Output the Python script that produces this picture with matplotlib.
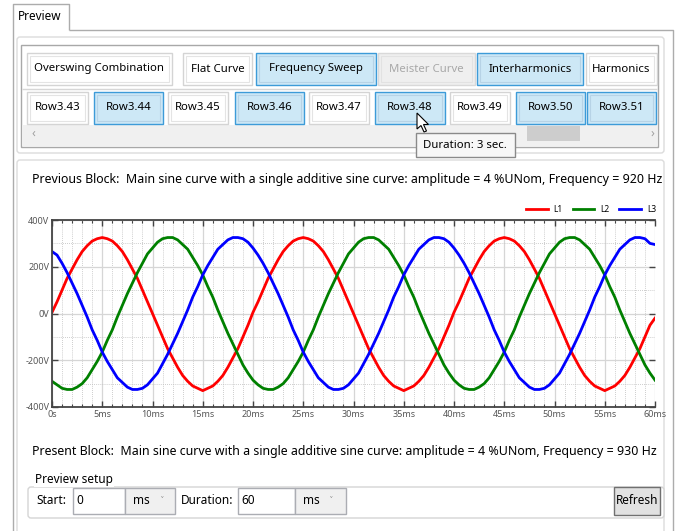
import numpy as np
import matplotlib
matplotlib.use("Agg")
import matplotlib.pyplot as plt
from matplotlib.patches import Rectangle, FancyBboxPatch, Polygon
from matplotlib.ticker import MultipleLocator

plt.rcParams['font.family'] = ['Noto Sans', 'DejaVu Sans']

t_ms = np.arange(121) * 0.5
l1 = [5, 50, 100, 150, 190, 230, 265, 290, 310, 320, 325, 320, 310, 290, 265, 230, 190, 150, 100, 50,
      0, -50, -100, -150, -190, -230, -265, -290, -310, -320, -330, -320, -310, -290, -265, -230, -190, -150, -100, -50,
      5, 50, 100, 150, 190, 230, 265, 290, 310, 320, 325, 320, 310, 290, 265, 230, 190, 150, 100, 50,
      0, -50, -100, -150, -190, -230, -265, -290, -310, -320, -330, -320, -310, -290, -265, -230, -190, -150, -100, -50,
      5, 50, 100, 150, 190, 230, 265, 290, 310, 320, 325, 320, 310, 290, 265, 230, 190, 150, 100, 50,
      0, -50, -100, -150, -190, -230, -265, -290, -310, -320, -330, -320, -310, -290, -265, -230, -190, -150, -100, -50,
      -20]
l2 = [-290, -305, -320, -325, -325, -315, -300, -275, -240, -205, -165, -115, -70, -15, 35, 85, 130, 175, 215, 255,
      280, 305, 320, 325, 325, 315, 295, 275, 240, 205, 165, 115, 70, 15, -35, -85, -130, -175, -220, -255,
      -285, -305, -320, -325, -325, -315, -300, -275, -240, -205, -165, -115, -70, -15, 35, 85, 130, 175, 215, 255,
      280, 305, 320, 325, 325, 315, 295, 275, 240, 205, 165, 115, 70, 15, -35, -85, -130, -175, -220, -255,
      -285, -305, -320, -325, -325, -315, -300, -275, -240, -205, -165, -115, -70, -15, 35, 85, 130, 175, 215, 255,
      280, 305, 320, 325, 325, 315, 295, 275, 240, 205, 165, 115, 70, 15, -35, -85, -130, -175, -220, -255,
      -285]
l3 = [265, 250, 215, 175, 130, 85, 35, -15, -70, -115, -165, -205, -240, -275, -295, -315, -325, -325, -320, -305,
      -280, -255, -215, -175, -130, -85, -35, 15, 70, 115, 165, 205, 240, 275, 295, 315, 325, 325, 320, 305,
      280, 250, 215, 175, 130, 85, 35, -15, -70, -115, -165, -205, -240, -275, -295, -315, -325, -325, -320, -305,
      -280, -255, -215, -175, -130, -85, -35, 15, 70, 115, 165, 205, 240, 275, 295, 315, 325, 325, 320, 305,
      280, 250, 215, 175, 130, 85, 35, -15, -70, -115, -165, -205, -240, -275, -295, -315, -325, -325, -320, -305,
      -280, -255, -215, -175, -130, -85, -35, 15, 70, 115, 165, 205, 240, 275, 295, 315, 325, 325, 320, 300,
      295]
phase_names = ["L1", "L2", "L3"]
phase_colors = ["#ff0000", "#008000", "#0000ff"]

x_ticks = [0, 5, 10, 15, 20, 25, 30, 35, 40, 45, 50, 55, 60]
x_labels = ["0s", "5ms", "10ms", "15ms", "20ms", "25ms", "30ms", "35ms", "40ms", "45ms", "50ms", "55ms", "60ms"]
y_ticks = [-400, -200, 0, 200, 400]
y_labels = ["-400V", "-200V", "0V", "200V", "400V"]

row1_names = ["Overswing Combination", "Flat Curve", "Frequency Sweep", "Meister Curve", "Interharmonics", "Harmonics"]
row2_names = ["Row3.43", "Row3.44", "Row3.45", "Row3.46", "Row3.47", "Row3.48", "Row3.49", "Row3.50", "Row3.51"]

prev_text = "Previous Block:  Main sine curve with a single additive sine curve: amplitude = 4 %UNom, Frequency = 920 Hz"
pres_text = "Present Block:  Main sine curve with a single additive sine curve: amplitude = 4 %UNom, Frequency = 930 Hz"

# Layout (Pixel)
W, H = 681, 531
row1_x = [(27, 172), (183, 252), (256, 376), (378, 475), (477, 583), (586, 657)]
row1_style = ["white", "white", "blue", "off", "blue", "white"]
row2_x = [(27, 88), (94, 163), (168, 228), (235, 304), (309, 369), (375, 445), (450, 510), (516, 585), (587, 656)]
row2_style = ["white", "blue", "white", "blue", "white", "blue", "white", "blue", "blue"]

fig = plt.figure(figsize=(W / 100, H / 100), dpi=100)
ui = fig.add_axes([0, 0, 1, 1])
ui.set_xlim(0, W)
ui.set_ylim(H, 0)
ui.axis("off")


def rect(x0, y0, x1, y1, fc="white", ec="#adadad", lw=1.0, r=0, z=1):
    if r:
        p = FancyBboxPatch((x0, y0), x1 - x0, y1 - y0, boxstyle="round,pad=0,rounding_size=%d" % r,
                           fc=fc, ec=ec, lw=lw, zorder=z)
    else:
        p = Rectangle((x0, y0), x1 - x0, y1 - y0, fc=fc, ec=ec, lw=lw, zorder=z)
    ui.add_patch(p)


def line(xs, ys, c="#acacac", lw=1.0, z=2):
    ui.plot(xs, ys, color=c, lw=lw, zorder=z, solid_capstyle="butt")


def text(x, y, s, size=8.5, color="#000000", ha="left", z=5):
    return ui.text(x, y, s, fontsize=size, color=color, ha=ha, va="center", zorder=z)


def button(x0, x1, y0, y1, s, style):
    if style == "blue":
        rect(x0, y0, x1, y1, fc="#cde8f6", ec="#3d9bd8", z=3)
        rect(x0 + 3, y0 + 3, x1 - 3, y1 - 3, fc="none", ec="#b7d3e6", lw=0.8, z=3)
        col = "#000000"
    elif style == "off":
        rect(x0, y0, x1, y1, fc="#efefef", ec="#d9d9d9", z=3)
        rect(x0 + 3, y0 + 3, x1 - 3, y1 - 3, fc="none", ec="#e2e2e2", lw=0.8, z=3)
        col = "#a8a8a8"
    else:
        rect(x0, y0, x1, y1, fc="white", ec="#d4d4d4", z=3)
        rect(x0 + 3, y0 + 3, x1 - 3, y1 - 3, fc="none", ec="#e4e4e4", lw=0.8, z=3)
        col = "#000000"
    text((x0 + x1) / 2, (y0 + y1) / 2, s, size=8.2, color=col, ha="center")


# Registerkarte und Rahmen
line([13, 13, 69, 69], [531, 4, 4, 30])
line([69, 673, 673], [30, 30, 531])
text(18, 17, "Preview", size=8.5)

# Gruppe mit den Schaltflächen
rect(17, 37, 664, 153, fc="white", ec="#dcdcdc", r=3)
rect(21, 45, 658, 147, fc="white", ec="#a8a8a8", z=2)
line([22, 657], [89, 89], c="#d6d6d6")
for (x0, x1), s, st in zip(row1_x, row1_names, row1_style):
    button(x0, x1, 53, 85, s, st)
for (x0, x1), s, st in zip(row2_x, row2_names, row2_style):
    button(x0, x1, 92, 124, s, st)
rect(22, 125, 657, 146, fc="#f0f0f0", ec="none", z=2)
rect(527, 126, 580, 141, fc="#cdcdcd", ec="none", z=3)
text(32, 133, "‹", size=9, color="#a0a0a0")
text(651, 133, "›", size=9, color="#a0a0a0")

# Tooltip und Mauszeiger
rect(416, 133, 515, 157, fc="#f7f7f7", ec="#8a8a8a", z=6)
text(423, 145.5, "Duration: 3 sec.", size=8.2, z=7)
ui.add_patch(Polygon([(417, 113), (417, 129), (421, 125.5), (424, 132), (426.5, 131), (423.5, 124.5), (428.5, 124.5)],
                     closed=True, fc="white", ec="black", lw=0.8, zorder=8))

# Gruppe mit dem Diagramm
rect(17, 160, 664, 545, fc="white", ec="#dcdcdc", r=3)
t_prev = text(32, 180, prev_text, size=8.5)
t_pres = text(32, 451, pres_text, size=8.5)

# Preview setup
rect(28, 487, 664, 518, fc="white", ec="#d5d5d5", r=3, z=2)
ui.text(35, 480, "Preview setup", fontsize=8.5, ha="left", va="center", zorder=5,
        bbox=dict(fc="white", ec="none", pad=0.5))
text(36, 501, "Start:")
rect(73, 488, 125, 514, fc="white", ec="#abadb3", z=3)
text(76, 501, "0")
rect(125, 488, 175, 514, fc="#f0f0f0", ec="#abadb3", z=3)
text(133, 501, "ms")
text(161, 500, "˅", size=7, color="#606060")
text(181, 501, "Duration:")
rect(238, 488, 295, 514, fc="white", ec="#abadb3", z=3)
text(241, 501, "60")
rect(295, 488, 346, 514, fc="#f0f0f0", ec="#abadb3", z=3)
text(303, 501, "ms")
text(330, 500, "˅", size=7, color="#606060")
rect(614, 487, 660, 515, fc="#e1e1e1", ec="#707070", z=3)
text(637, 501, "Refresh", ha="center")

# Diagramm
ax = fig.add_axes([52 / W, 1 - 407 / H, (655 - 52) / W, (407 - 220) / H])
ax.set_zorder(4)
for vals, name, col in zip([l1, l2, l3], phase_names, phase_colors):
    ax.plot(t_ms, vals, color=col, lw=2.0, label=name)
ax.set_xlim(0, 60)
ax.set_ylim(-400, 400)
ax.set_xticks(x_ticks)
ax.set_xticklabels(x_labels)
ax.set_yticks(y_ticks)
ax.set_yticklabels(y_labels)
ax.xaxis.set_minor_locator(MultipleLocator(1))
ax.yaxis.set_minor_locator(MultipleLocator(100))
ax.grid(which="major", color="#d6d6d6", lw=0.9)
ax.grid(which="minor", color="#bdbdbd", lw=0.6, ls=(0, (1, 1.5)))
ax.set_axisbelow(True)
for sp in ["top", "left", "bottom"]:
    ax.spines[sp].set_color("#444444")
    ax.spines[sp].set_linewidth(1.3)
ax.spines["right"].set_visible(False)
ax.tick_params(which="both", direction="in", colors="#444444", top=True, right=True,
               labelsize=6.5, labelcolor="#555555", pad=2)
ax.tick_params(which="major", length=4, width=1)
ax.tick_params(which="minor", length=2.5, width=0.8)
ax.tick_params(axis="y", which="minor", length=0)
ax.legend(loc="lower right", bbox_to_anchor=(1.01, 1.005), ncol=3, frameon=False, fontsize=6,
          handlelength=2.6, handletextpad=0.7, columnspacing=1.2, borderpad=0.1)

# lange Textzeilen auf die Breite im Bild bringen
r = fig.canvas.get_renderer()
for t, w in [(t_prev, 635), (t_pres, 629)]:
    bb = t.get_window_extent(r)
    t.set_fontsize(t.get_fontsize() * w / bb.width)

fig.savefig("out.png", dpi=100)
